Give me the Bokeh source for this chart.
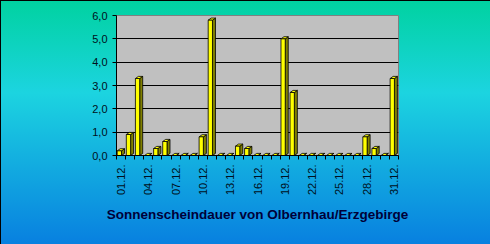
from math import pi
from bokeh.plotting import figure
from bokeh.models import Range1d, FixedTicker, Label, ColumnDataSource
from bokeh.embed import file_html
from bokeh.resources import INLINE

# ---- data ----
days = list(range(1, 32))
sunshine = [0.2, 0.9, 3.3, 0.0, 0.3, 0.6, 0.0, 0.0, 0.0, 0.8,
            5.8, 0.0, 0.0, 0.4, 0.3, 0.0, 0.0, 0.0, 5.0, 2.7,
            0.0, 0.0, 0.0, 0.0, 0.0, 0.0, 0.0, 0.8, 0.3, 0.0, 3.3]
x_tick_days = [1, 4, 7, 10, 13, 16, 19, 22, 25, 28, 31]
x_tick_labels = ["01.12.", "04.12.", "07.12.", "10.12.", "13.12.", "16.12.",
                 "19.12.", "22.12.", "25.12.", "28.12.", "31.12."]
y_ticks = [0, 1, 2, 3, 4, 5, 6]
y_tick_labels = ["0,0", "1,0", "2,0", "3,0", "4,0", "5,0", "6,0"]
grid_values = [1, 2, 3, 4, 5]
x_title = "Sonnenscheindauer von Olbernhau/Erzgebirge"
y_title_lines = ["Dauer", "in", "Stunde", "n"]

# ---- figure ----
FRAME_L, FRAME_R, FRAME_T, FRAME_B = 116, 398, 15, 155
W, H = 490, 244
x0, x1 = 0.5, 31.5
y0, y1 = 0.0, 6.0

p = figure(width=W, height=H, output_backend="svg", toolbar_location=None,
           x_range=Range1d(x0, x1), y_range=Range1d(y0, y1),
           min_border_left=FRAME_L, min_border_right=W - FRAME_R,
           min_border_top=FRAME_T, min_border_bottom=H - FRAME_B)
p.styles = {"background": "linear-gradient(to bottom, #00D2A0 0%, #1CD4E0 38%, #0880E0 100%)",
            "box-shadow": "inset 1px 1px 0 #000000"}
p.border_fill_color = None
p.background_fill_color = "#C0C0C0"
p.outline_line_color = "#808080"

# grid
p.xgrid.visible = False
p.ygrid.ticker = FixedTicker(ticks=grid_values)
p.ygrid.grid_line_color = "#000000"
p.ygrid.grid_line_width = 1

# y axis
p.yaxis.ticker = FixedTicker(ticks=y_ticks)
p.yaxis.major_label_overrides = {t: l for t, l in zip(y_ticks, y_tick_labels)}
p.yaxis.major_tick_out = 4
p.yaxis.major_tick_in = 0
p.yaxis.minor_tick_out = 0
p.yaxis.minor_tick_in = 0
p.yaxis.axis_line_color = "#000000"
p.yaxis.major_label_standoff = 5
p.yaxis.major_label_text_font = "Liberation Sans"
p.yaxis.major_label_text_font_size = "11px"
p.yaxis.major_label_text_color = "#001020"

# x axis
p.xaxis.ticker = FixedTicker(ticks=x_tick_days, minor_ticks=[d - 0.5 for d in days] + [days[-1] + 0.5])
p.xaxis.major_label_overrides = {t: l for t, l in zip(x_tick_days, x_tick_labels)}
p.xaxis.major_label_orientation = pi / 2
p.xaxis.major_tick_out = 0
p.xaxis.major_tick_in = 0
p.xaxis.minor_tick_out = 4
p.xaxis.minor_tick_in = 0
p.xaxis.minor_tick_line_color = "#000000"
p.xaxis.axis_line_color = "#000000"
p.xaxis.major_label_standoff = 5
p.xaxis.major_label_text_font = "Liberation Sans"
p.xaxis.major_label_text_font_size = "11px"
p.xaxis.major_label_text_color = "#001020"
p.xaxis.axis_label = x_title
p.xaxis.axis_label_text_font = "Liberation Sans"
p.xaxis.axis_label_text_font_style = "bold"
p.xaxis.axis_label_text_font_size = "13.5px"
p.xaxis.axis_label_text_color = "#000038"
p.xaxis.axis_label_standoff = 9

# ---- 3D bars ----
FL, FR = -0.42, 0.05      # front face offsets (category units)
DX, DY = 0.33, 0.09       # depth offsets
front = ColumnDataSource(dict(left=[d + FL for d in days], right=[d + FR for d in days],
                              top=sunshine, bottom=[0.0] * len(days)))
side_xs, side_ys, top_xs, top_ys = [], [], [], []
for d, v in zip(days, sunshine):
    r = d + FR
    l = d + FL
    side_xs.append([r, r + DX, r + DX, r])
    side_ys.append([0.0, DY, v + DY, v])
    top_xs.append([l, l + DX, r + DX, r])
    top_ys.append([v, v + DY, v + DY, v])

p.patches(side_xs, side_ys, fill_color="#808000", line_color="#000000", line_width=0.8)
p.patches(top_xs, top_ys, fill_color="#FFFF00", line_color="#000000", line_width=0.8)
p.quad(source=front, left="left", right="right", top="top", bottom="bottom",
       fill_color="#FFFF00", line_color="#000000", line_width=0.8)

# ---- y title (rotated, stacked lines) ----
px_per_x = (FRAME_R - FRAME_L) / (x1 - x0)
px_per_y = (FRAME_B - FRAME_T) / (y1 - y0)
title_cols = [20.7, 36.5, 50.5, 66.0]
title_cy = 97.0
for txt, cx in zip(y_title_lines, title_cols):
    p.add_layout(Label(x=x0 + (cx - FRAME_L) / px_per_x,
                       y=y0 + (FRAME_B - title_cy) / px_per_y,
                       text=txt, angle=pi / 2, text_align="center", text_baseline="middle",
                       text_font="Liberation Sans", text_font_style="bold",
                       text_font_size="11px", text_color="#000000"))

open("out.html", "w").write(file_html(p, INLINE))
